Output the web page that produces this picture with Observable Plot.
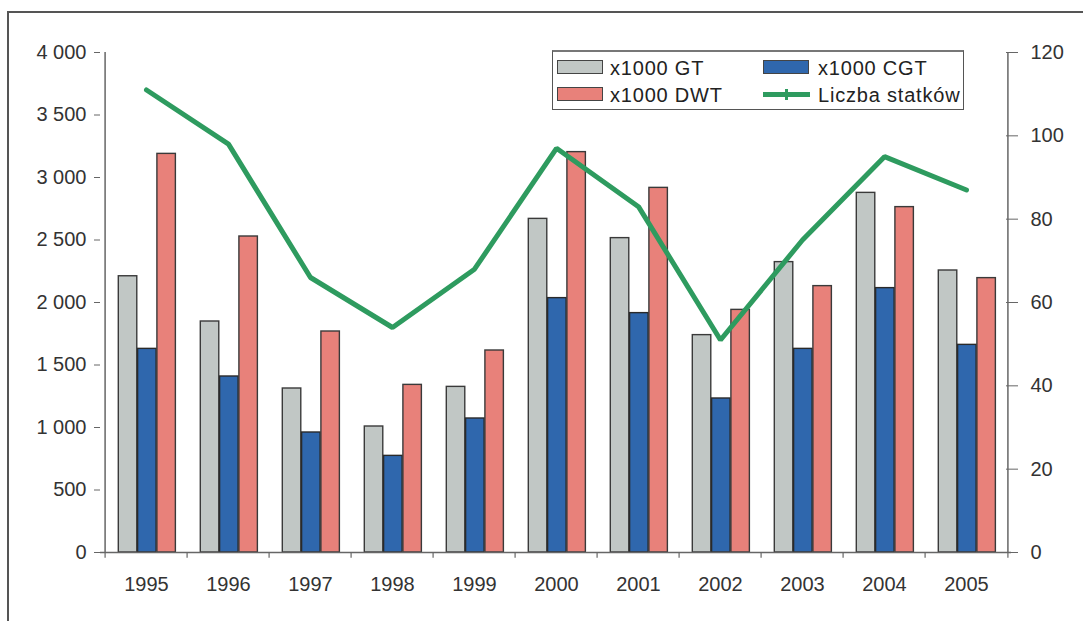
<!DOCTYPE html>
<html>
<head>
<meta charset="utf-8">
<script src="https://cdn.jsdelivr.net/npm/d3@7"></script>
<script src="https://cdn.jsdelivr.net/npm/@observablehq/plot@0.6"></script>
<style>
  html, body { margin: 0; padding: 0; background: #fff; }
  #wrap { position: relative; width: 1083px; height: 621px; overflow: hidden; font-family: "Liberation Sans", Arial, sans-serif; }
  #frame { position: absolute; left: 7px; top: 11px; width: 1200px; height: 800px; border-left: 2px solid #555; border-top: 2px solid #555; }
  #legend { position: absolute; left: 552px; top: 50px; width: 410px; height: 57px; border: 1px solid #555; border-top: 2px solid #777; background: #fff; }
  .sw { position: absolute; width: 46px; height: 14px; border: 1px solid #444; box-sizing: border-box; }
  .lt { position: absolute; font-size: 20px; line-height: 20px; letter-spacing: 0.8px; color: #222; white-space: nowrap; }
  #chart svg { position: absolute; left: 0; top: 0; }
</style>
</head>
<body>
<div id="wrap">
  <div id="frame"></div>
  <div id="chart"></div>
  <div id="legend"></div>
</div>
<script>
// ---- data ----
const years = ["1995","1996","1997","1998","1999","2000","2001","2002","2003","2004","2005"];
const gt  = [2210, 1848, 1312, 1008, 1325, 2669, 2515, 1739, 2323, 2877, 2256];
const cgt = [1629, 1408,  960,  773, 1072, 2035, 1915, 1232, 1629, 2115, 1661];
const dwt = [3189, 2528, 1768, 1341, 1616, 3203, 2917, 1941, 2131, 2763, 2195];
const ships = [111, 98, 66, 54, 68, 97, 83, 51, 75, 95, 87];
const leftTicks = [0, 500, 1000, 1500, 2000, 2500, 3000, 3500, 4000];
const rightTicks = [0, 20, 40, 60, 80, 100, 120];
const seriesNames = ["x1000 GT", "x1000 CGT", "x1000 DWT", "Liczba statków"];
const colors = {gt: "#c1c7c5", cgt: "#2f67ad", dwt: "#e8817a", ships: "#2e9b5f"};

const leftMax = 4000, rightMax = 120;
const toLeft = v => v * leftMax / rightMax;

const rows = years.map((y, i) => ({year: y, gt: gt[i], cgt: cgt[i], dwt: dwt[i], ships: ships[i]}));

const W = 1083, H = 621, mL = 100, mR = 72, mT = 52, mB = 69;
const bw = (W - mL - mR) / years.length;
const barW = 19.3, off = 13.3;
const inset = k => ({insetLeft: off + k * barW, insetRight: bw - (off + (k + 1) * barW)});

const fmt = d => d3.format(",")(d).replace(/,/g, " ");

const chart = Plot.plot({
  width: W, height: H,
  marginLeft: mL, marginRight: mR, marginTop: mT, marginBottom: mB,
  style: {fontFamily: "'Liberation Sans', Arial, sans-serif", fontSize: "20px", color: "#333", background: "transparent"},
  x: {type: "band", domain: years, padding: 0},
  y: {domain: [0, leftMax]},
  marks: [
    Plot.barY(rows, {x: "year", y: "gt", fill: colors.gt, stroke: "#3a3a3a", strokeWidth: 1.4, ...inset(0)}),
    Plot.barY(rows, {x: "year", y: "cgt", fill: colors.cgt, stroke: "#2a2a2a", strokeWidth: 1.4, ...inset(1)}),
    Plot.barY(rows, {x: "year", y: "dwt", fill: colors.dwt, stroke: "#3a3a3a", strokeWidth: 1.4, ...inset(2)}),
    // axis lines
    Plot.ruleY([0], {stroke: "#666", strokeWidth: 1.5}),
    Plot.ruleX([years[0]], {x: d => d, y1: 0, y2: leftMax, dx: -bw / 2, stroke: "#666", strokeWidth: 1.5}),
    Plot.ruleX([years[years.length - 1]], {x: d => d, y1: 0, y2: leftMax, dx: bw / 2, stroke: "#666", strokeWidth: 1.5}),
    // x ticks at band boundaries
    Plot.ruleX(years, {x: d => d, y1: 0, y2: -45, dx: -bw / 2, stroke: "#666", strokeWidth: 1.2}),
    Plot.ruleX([years[years.length - 1]], {x: d => d, y1: 0, y2: -45, dx: bw / 2, stroke: "#666", strokeWidth: 1.2}),
    Plot.axisX({tickSize: 0, tickPadding: 24, label: null, fontSize: 20}),
    Plot.axisY({anchor: "left", ticks: leftTicks, tickFormat: fmt, tickSize: 6, tickPadding: 8, label: null, fontSize: 20, stroke: "#666"}),
    Plot.axisY({anchor: "right", ticks: rightTicks.map(toLeft), tickFormat: d => Math.round(d * rightMax / leftMax), tickSize: 6, tickPadding: 13, label: null, fontSize: 20, stroke: "#666"}),
    Plot.axisY({anchor: "right", ticks: rightTicks.map(toLeft), tickFormat: () => "", tickSize: -6, label: null, stroke: "#666"}),
    // ships line on right scale
    Plot.line(rows, {x: "year", y: d => toLeft(d.ships), stroke: colors.ships, strokeWidth: 5, strokeLinejoin: "miter"})
  ]
});
document.getElementById("chart").appendChild(chart);

// ---- legend ----
const lg = document.getElementById("legend");
const items = [
  {name: seriesNames[0], type: "bar", color: colors.gt, col: 0, row: 0},
  {name: seriesNames[1], type: "bar", color: colors.cgt, col: 1, row: 0},
  {name: seriesNames[2], type: "bar", color: colors.dwt, col: 0, row: 1},
  {name: seriesNames[3], type: "line", color: colors.ships, col: 1, row: 1}
];
items.forEach(it => {
  const sx = it.col ? 210 : 4, tx = it.col ? 265 : 57;
  const rowY = it.row ? 34 : 7;
  if (it.type === "bar") {
    const s = document.createElement("div");
    s.className = "sw";
    s.style.left = sx + "px"; s.style.top = (rowY + 1) + "px"; s.style.background = it.color;
    lg.appendChild(s);
  } else {
    const l = document.createElement("div");
    l.style.cssText = `position:absolute;left:${sx}px;top:${rowY + 6}px;width:47px;height:5px;background:${it.color}`;
    lg.appendChild(l);
    const t = document.createElement("div");
    t.style.cssText = `position:absolute;left:${sx + 22}px;top:${rowY + 3}px;width:3px;height:11px;background:${it.color}`;
    lg.appendChild(t);
  }
  const tEl = document.createElement("div");
  tEl.className = "lt";
  tEl.textContent = it.name;
  tEl.style.left = tx + "px"; tEl.style.top = (rowY - 1) + "px";
  lg.appendChild(tEl);
});
</script>
</body>
</html>
